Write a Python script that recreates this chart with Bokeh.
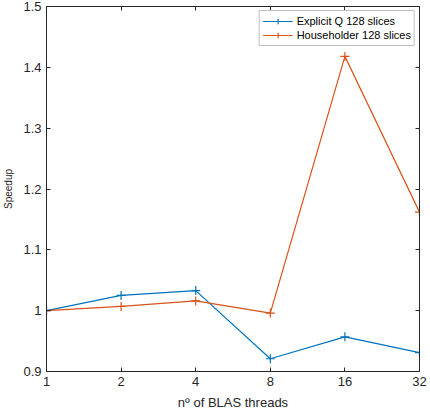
from bokeh.plotting import figure
from bokeh.models import FixedTicker, LogAxis, LinearAxis, Legend, LegendItem, CustomJSTickFormatter
from bokeh.embed import file_html
from bokeh.resources import INLINE

# BLAS thread counts and measured speedups
threads = [1, 2, 4, 8, 16, 32]
explicit_q = [1.000, 1.025, 1.033, 0.921, 0.957, 0.931]
householder = [1.000, 1.007, 1.016, 0.996, 1.418, 1.162]
x_ticks = [1, 2, 4, 8, 16, 32]
y_ticks = [0.9, 1.0, 1.1, 1.2, 1.3, 1.4, 1.5]

FONT = "Liberation Sans"
INK = "#262626"
BLUE = "#0072BD"
ORANGE = "#D95319"

p = figure(width=430, height=420, x_axis_type="log",
           x_range=(1, 32), y_range=(0.9, 1.5),
           output_backend="svg", toolbar_location=None,
           min_border_left=44, min_border_right=11,
           min_border_top=6, min_border_bottom=49)
p.grid.visible = False
p.outline_line_color = INK
p.outline_line_width = 1
p.background_fill_color = "white"
p.border_fill_color = "white"

def style_axis(ax, show_labels=True):
    ax.axis_line_color = INK
    ax.major_tick_line_color = INK
    ax.major_tick_in = 4
    ax.major_tick_out = 0
    ax.minor_tick_line_color = None
    ax.major_label_text_font = FONT
    ax.major_label_text_color = INK
    ax.major_label_text_font_size = "13px"
    ax.major_label_standoff = 5 if show_labels else 0

xa = p.xaxis[0]
xa.ticker = FixedTicker(ticks=x_ticks)
xa.major_label_overrides = {t: str(t) for t in x_ticks}
style_axis(xa)
xa.axis_label = "nº of BLAS threads"
xa.axis_label_text_font = FONT
xa.axis_label_text_font_style = "normal"
xa.axis_label_text_font_size = "13px"
xa.axis_label_text_color = INK
xa.axis_label_standoff = 6

ya = p.yaxis[0]
ya.ticker = FixedTicker(ticks=y_ticks)
ya.major_label_overrides = {0.9: "0.9", 1.0: "1", 1.1: "1.1", 1.2: "1.2",
                            1.3: "1.3", 1.4: "1.4", 1.5: "1.5"}
style_axis(ya)
ya.axis_label = "Speedup"
ya.axis_label_text_font = FONT
ya.axis_label_text_font_style = "normal"
ya.axis_label_text_font_size = "10px"
ya.axis_label_text_color = INK
ya.axis_label_standoff = 6

# mirrored ticks on the top and right sides of the box, without labels
blank = CustomJSTickFormatter(code="return ''")
top = LogAxis(ticker=FixedTicker(ticks=x_ticks), formatter=blank)
style_axis(top, show_labels=False)
top.major_label_text_alpha = 0
p.add_layout(top, "above")
right = LinearAxis(ticker=FixedTicker(ticks=y_ticks), formatter=blank)
style_axis(right, show_labels=False)
right.major_label_text_alpha = 0
p.add_layout(right, "right")

l1 = p.line(threads, explicit_q, line_color=BLUE, line_width=1.2)
s1 = p.scatter(threads, explicit_q, marker="cross", size=9,
               line_color=BLUE, line_width=1.2)
l2 = p.line(threads, householder, line_color=ORANGE, line_width=1.2)
s2 = p.scatter(threads, householder, marker="cross", size=9,
               line_color=ORANGE, line_width=1.2)

legend = Legend(items=[
    LegendItem(label="Explicit Q 128 slices", renderers=[l1, s1]),
    LegendItem(label="Householder 128 slices", renderers=[l2, s2]),
], location="top_right")
legend.label_text_font = FONT
legend.label_text_font_size = "11px"
legend.label_text_color = "black"
legend.border_line_color = "#7f7f7f"
legend.border_line_width = 1
legend.padding = 3
legend.spacing = 0
legend.margin = 4
legend.glyph_width = 30
legend.glyph_height = 14
legend.label_height = 14
legend.label_standoff = 4
p.add_layout(legend)

open("out.html", "w").write(file_html(p, INLINE))
